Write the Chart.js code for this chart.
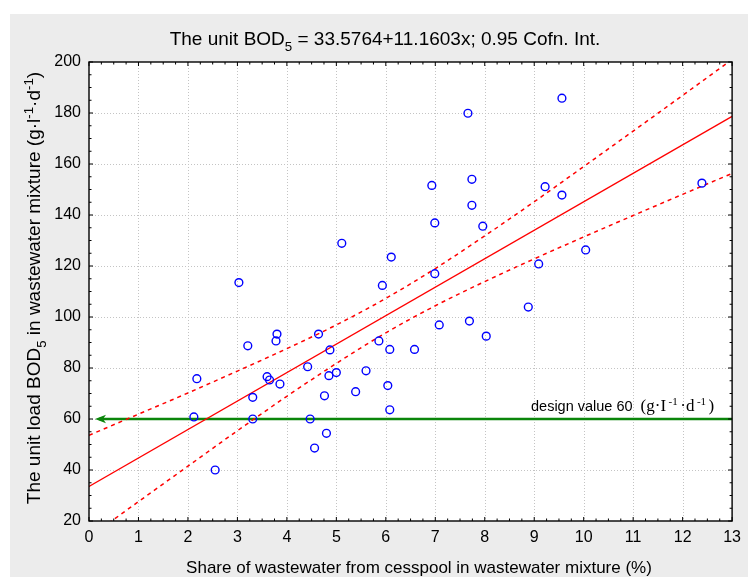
<!DOCTYPE html>
<html>
<head>
<meta charset="utf-8">
<script src="https://cdn.jsdelivr.net/npm/chart.js@4.4.0/dist/chart.umd.min.js"></script>
<style>
    html, body { margin: 0; padding: 0; background: #ffffff; }
    #panel { position: absolute; left: 10px; top: 14px; width: 738px; height: 563px; background: #ececec; }
    #contenedor { position: absolute; left: 0; top: 0; width: 748px; height: 577px; }
</style>
</head>
<body>
<div id="panel"></div>
<div id="contenedor"><canvas id="grafico"></canvas></div>
<script>
// muestras: cuota de agua de pozo negro (%) y carga unitaria DBO5
const cuota = [2.12, 2.18, 2.55, 3.03, 3.21, 3.31, 3.31, 3.60, 3.65, 3.78,
    3.80, 3.86, 4.42, 4.47, 4.56, 4.64, 4.76, 4.80, 4.87, 4.85,
    5.00, 5.11, 5.39, 5.60, 5.86, 5.93, 6.04, 6.08, 6.08, 6.11,
    6.58, 6.93, 6.99, 6.99, 7.08, 7.66, 7.69, 7.74, 7.74, 7.96,
    8.03, 8.88, 9.09, 9.22, 9.56, 9.56, 10.04, 12.39];
const cargaDBO = [60.8, 75.8, 40.0, 113.5, 88.7, 68.5, 60.0, 76.6, 75.3, 90.6,
    93.3, 73.7, 80.5, 60.0, 48.6, 93.3, 69.1, 54.4, 87.1, 77.0,
    78.2, 128.9, 70.7, 78.9, 90.6, 112.4, 73.1, 87.3, 63.6, 123.5,
    87.3, 151.6, 136.9, 117.0, 96.9, 179.9, 98.4, 154.0, 143.8, 135.6,
    92.5, 103.9, 120.8, 151.1, 185.8, 147.8, 126.3, 152.5];

// recta de regresion
const intercepto = 33.5764;
const pendiente = 11.1603;

// limites del intervalo de confianza 0.95
const xBanda = [0, 1, 2, 3, 4, 5, 6, 7, 8, 9, 10, 11, 12, 13];
const bandaSup = [53.6, 61.9, 70.2, 78.8, 87.6, 96.9, 107.3, 119.0, 131.8, 145.2, 159.0, 172.9, 186.9, 201.0];
const bandaInf = [13.6, 27.6, 41.5, 55.4, 68.9, 81.8, 93.8, 104.4, 113.9, 122.8, 131.4, 139.8, 148.1, 156.3];

const valorDiseno = 60;

const ticksX = [0, 1, 2, 3, 4, 5, 6, 7, 8, 9, 10, 11, 12, 13];
const ticksY = [20, 40, 60, 80, 100, 120, 140, 160, 180, 200];

const fuente = '"Liberation Sans", Arial, sans-serif';
const fuenteSerif = '"Liberation Serif", "Times New Roman", serif';

// dibuja texto con partes en subindice / superindice, centrado en (0,0)
function textoRico(ctx, partes, size, familia) {
    const medir = p => {
        ctx.font = (p.sub || p.sup ? size * 0.7 : size) + 'px ' + (p.familia || familia);
        return ctx.measureText(p.t).width;
    };
    const total = partes.reduce((s, p) => s + medir(p), 0);
    let x = -total / 2;
    partes.forEach(p => {
        const w = medir(p);
        let dy = 0;
        if (p.sub) dy = size * 0.3;
        if (p.sup) dy = -size * 0.38;
        ctx.fillText(p.t, x, dy);
        x += w;
    });
}

const marco = {
    id: 'marco',
    beforeDraw(chart) {
        const { ctx, chartArea: a } = chart;
        ctx.save();
        ctx.fillStyle = '#ffffff';
        ctx.fillRect(a.left, a.top, a.right - a.left, a.bottom - a.top);
        ctx.restore();
    },
    beforeDatasetsDraw(chart) {
        const { ctx, chartArea: a, scales: { x, y } } = chart;
        ctx.save();
        // rejilla punteada
        ctx.strokeStyle = '#c4c4c4';
        ctx.lineWidth = 1;
        ctx.setLineDash([1, 2]);
        ticksX.slice(1, -1).forEach(v => {
            const px = Math.round(x.getPixelForValue(v)) + 0.5;
            ctx.beginPath(); ctx.moveTo(px, a.top); ctx.lineTo(px, a.bottom); ctx.stroke();
        });
        ticksY.slice(1, -1).forEach(v => {
            const py = Math.round(y.getPixelForValue(v)) + 0.5;
            ctx.beginPath(); ctx.moveTo(a.left, py); ctx.lineTo(a.right, py); ctx.stroke();
        });
        ctx.setLineDash([]);

        // linea del valor de diseño con flecha
        const py = y.getPixelForValue(valorDiseno);
        const punta = a.left + 6;
        ctx.strokeStyle = '#0a850a';
        ctx.lineWidth = 2.6;
        ctx.beginPath(); ctx.moveTo(punta + 4, py); ctx.lineTo(a.right, py); ctx.stroke();
        ctx.fillStyle = '#0a850a';
        ctx.beginPath();
        ctx.moveTo(punta, py);
        ctx.lineTo(punta + 11, py - 4.2);
        ctx.lineTo(punta + 8, py);
        ctx.lineTo(punta + 11, py + 4.2);
        ctx.closePath();
        ctx.fill();

        // etiqueta
        ctx.fillStyle = '#000';
        ctx.textBaseline = 'alphabetic';
        ctx.textAlign = 'left';
        let tx = 531;
        const ty = py - 8;
        ctx.font = '14.5px ' + fuente;
        const t1 = 'design value ' + valorDiseno + ' ';
        ctx.fillText(t1, tx, ty);
        tx += ctx.measureText(t1).width + 4;
        const partes = [
            { t: '(g·I' }, { t: '-1', sup: true }, { t: '·d' }, { t: '-1', sup: true }, { t: ')' }
        ];
        partes.forEach(p => {
            const s = p.sup ? 11 : 17;
            ctx.font = s + 'px ' + fuenteSerif;
            ctx.fillText(p.t, tx, p.sup ? ty - 6.5 : ty);
            tx += ctx.measureText(p.t).width + 2.5;
        });
        ctx.restore();
    },
    afterDraw(chart) {
        const { ctx, chartArea: a, scales: { x, y } } = chart;
        ctx.save();
        // marco con marcas hacia dentro
        ctx.strokeStyle = '#000';
        ctx.lineWidth = 1.4;
        ctx.strokeRect(a.left, a.top, a.right - a.left, a.bottom - a.top);
        ctx.lineWidth = 1;
        for (let v = 0; v <= 13.001; v += 0.25) {
            const px = x.getPixelForValue(v);
            const l = Math.abs(v - Math.round(v)) < 0.01 ? 4 : 2.5;
            ctx.beginPath();
            ctx.moveTo(px, a.bottom); ctx.lineTo(px, a.bottom - l);
            ctx.moveTo(px, a.top); ctx.lineTo(px, a.top + l);
            ctx.stroke();
        }
        for (let v = 20; v <= 200; v += 5) {
            const py = y.getPixelForValue(v);
            const l = v % 20 === 0 ? 4 : 2.5;
            ctx.beginPath();
            ctx.moveTo(a.left, py); ctx.lineTo(a.left + l, py);
            ctx.moveTo(a.right, py); ctx.lineTo(a.right - l, py);
            ctx.stroke();
        }

        // titulos
        ctx.fillStyle = '#000';
        ctx.textAlign = 'left';
        ctx.textBaseline = 'alphabetic';
        ctx.save();
        ctx.translate(385, 45);
        textoRico(ctx, [
            { t: 'The unit BOD' }, { t: '5', sub: true },
            { t: ' = ' + intercepto + '+' + pendiente + 'x; 0.95 Cofn. Int.' }
        ], 19, fuente);
        ctx.restore();

        ctx.save();
        ctx.translate(419, 573);
        textoRico(ctx, [{ t: 'Share of wastewater from cesspool in wastewater mixture (%)' }], 17, fuente);
        ctx.restore();

        ctx.save();
        ctx.translate(40, 288);
        ctx.rotate(-Math.PI / 2);
        textoRico(ctx, [
            { t: 'The unit load BOD' }, { t: '5', sub: true },
            { t: ' in wastewater mixture (g·l' }, { t: '-1', sup: true },
            { t: '·d' }, { t: '-1', sup: true }, { t: ')' }
        ], 19, fuente);
        ctx.restore();
        ctx.restore();
    }
};

const puntos = cuota.map((v, i) => ({ x: v, y: cargaDBO[i] }));
const recta = [0, 13].map(v => ({ x: v, y: intercepto + pendiente * v }));
const sup = xBanda.map((v, i) => ({ x: v, y: bandaSup[i] }));
const inf = xBanda.map((v, i) => ({ x: v, y: bandaInf[i] }));

const grafico = document.getElementById('grafico').getContext('2d');

new Chart(grafico, {
    type: 'scatter',
    plugins: [marco],
    data: {
        datasets: [
            {
                data: puntos,
                pointStyle: 'circle',
                pointRadius: 3.9,
                pointBorderWidth: 1.4,
                pointBorderColor: '#0000ff',
                pointBackgroundColor: 'rgba(0,0,0,0)',
                showLine: false
            },
            {
                type: 'line',
                data: recta,
                borderColor: '#ff0000',
                borderWidth: 1.3,
                pointRadius: 0
            },
            {
                type: 'line',
                data: sup,
                borderColor: '#ff0000',
                borderWidth: 1.5,
                borderDash: [4, 4],
                cubicInterpolationMode: 'monotone',
                pointRadius: 0
            },
            {
                type: 'line',
                data: inf,
                borderColor: '#ff0000',
                borderWidth: 1.5,
                borderDash: [4, 4],
                cubicInterpolationMode: 'monotone',
                pointRadius: 0
            }
        ]
    },
    options: {
        responsive: true,
        maintainAspectRatio: false,
        animation: false,
        layout: {
            autoPadding: false,
            padding: { top: 62, right: 6, left: 0, bottom: 0 }
        },
        plugins: {
            legend: { display: false },
            tooltip: { enabled: false }
        },
        scales: {
            x: {
                type: 'linear',
                min: 0,
                max: 13,
                afterBuildTicks: s => { s.ticks = ticksX.map(v => ({ value: v })); },
                afterFit: s => { s.height = 56; },
                ticks: {
                    color: '#000',
                    padding: 7,
                    maxRotation: 0,
                    autoSkip: false,
                    font: { family: fuente, size: 16 }
                },
                grid: { display: false, drawTicks: false },
                border: { display: false }
            },
            y: {
                type: 'linear',
                min: 20,
                max: 200,
                afterBuildTicks: s => { s.ticks = ticksY.map(v => ({ value: v })); },
                afterFit: s => { s.width = 89; },
                ticks: {
                    color: '#000',
                    padding: 8,
                    autoSkip: false,
                    font: { family: fuente, size: 16 }
                },
                grid: { display: false, drawTicks: false },
                border: { display: false }
            }
        }
    }
});
</script>
</body>
</html>
